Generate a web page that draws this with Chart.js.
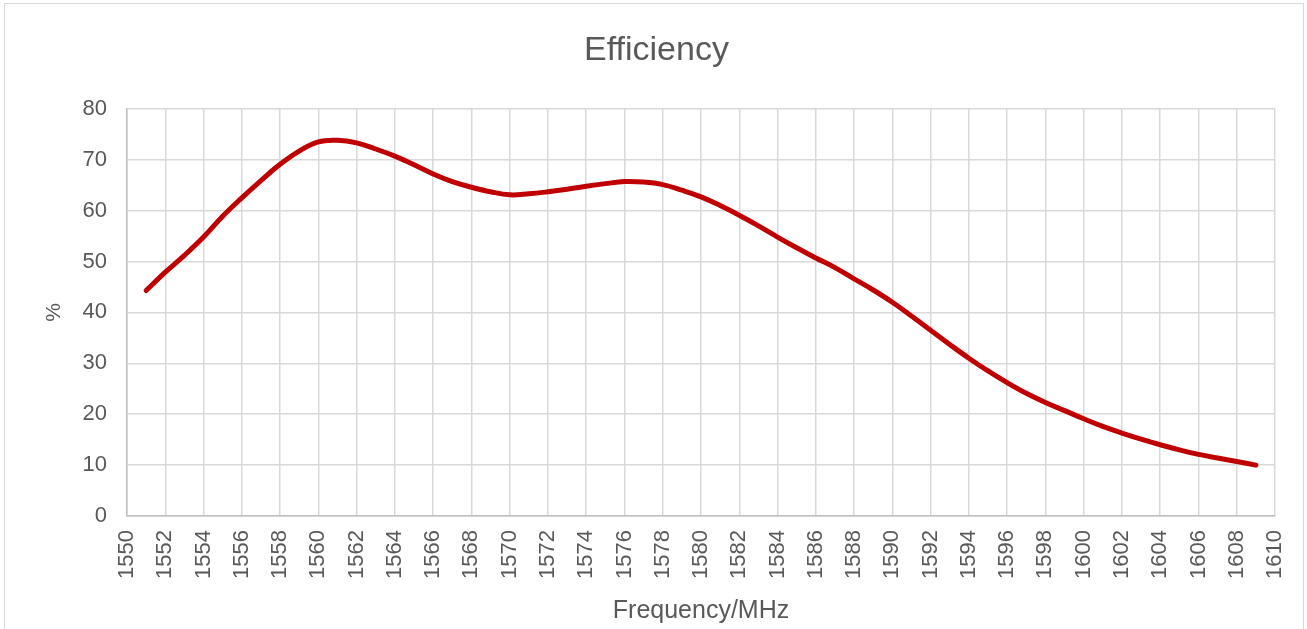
<!DOCTYPE html>
<html>
<head>
<meta charset="utf-8">
<script src="https://cdn.jsdelivr.net/npm/chart.js@4"></script>
<style>
  html, body { margin: 0; padding: 0; background: #fff; overflow: hidden; }
  #wrap { position: relative; width: 1307px; height: 629px; }
  #frame { position: absolute; left: 4px; top: 3px; width: 1298px; height: 640px; border: 1.5px solid #d9d9d9; }
  canvas { position: absolute; left: 0; top: 0; }
</style>
</head>
<body>
<div id="wrap">
  <div id="frame"></div>
  <canvas id="myChartLine" width="1307" height="629"></canvas>
</div>
<script>
const frequency = [
  1551, 1552, 1553, 1554, 1555, 1556, 1557, 1558, 1559, 1560,
  1561, 1562, 1563, 1564, 1565, 1566, 1567, 1568, 1569, 1570,
  1571, 1572, 1573, 1574, 1575, 1576, 1577, 1578, 1579, 1580,
  1581, 1582, 1583, 1584, 1585, 1586, 1587, 1588, 1589, 1590,
  1591, 1592, 1593, 1594, 1595, 1596, 1597, 1598, 1599, 1600,
  1601, 1602, 1603, 1604, 1605, 1606, 1607, 1608, 1609,
];
const efficiency = [
  44.3, 47.9, 51.2, 54.8, 58.9, 62.5, 65.9, 69.1, 71.7, 73.5,
  73.8, 73.3, 72.1, 70.7, 69.0, 67.2, 65.7, 64.6, 63.7, 63.1,
  63.3, 63.7, 64.2, 64.8, 65.3, 65.7, 65.6, 65.1, 64.0, 62.7,
  61.0, 59.1, 57.0, 54.8, 52.7, 50.7, 48.8, 46.6, 44.4, 42.0,
  39.3, 36.5, 33.7, 31.0, 28.5, 26.2, 24.1, 22.3, 20.7, 19.1,
  17.6, 16.3, 15.1, 14.0, 13.0, 12.1, 11.4, 10.7, 10.0,
];
const xRange = [1550, 1610];
const yRange = [0, 80];

const textColor = "#595959";
const gridColor = "#d9d9d9";
const fontFamily = "'Liberation Sans', Arial, sans-serif";

const canvas_line = document.getElementById("myChartLine");
let myChart_line = new Chart(canvas_line, {
  type: "line",
  data: {
    datasets: [
      {
        label: "Efficiency",
        data: frequency.map((f, i) => ({ x: f, y: efficiency[i] })),
        borderColor: "#c00000",
        borderWidth: 5,
        borderCapStyle: "round",
        borderJoinStyle: "round",
        pointRadius: 0,
        tension: 0.4,
        fill: false,
      },
    ],
  },
  options: {
    responsive: false,
    animation: false,
    events: [],
    layout: { padding: { left: 38, right: 32, top: 0, bottom: 0 } },
    plugins: {
      legend: { display: false },
      tooltip: { enabled: false },
      title: {
        display: true,
        text: "Efficiency",
        color: textColor,
        font: { family: fontFamily, size: 34, weight: "normal", lineHeight: 1.2 },
        padding: { top: 30, bottom: 38 },
      },
    },
    scales: {
      x: {
        type: "linear",
        min: xRange[0],
        max: xRange[1],
        afterFit: (scale) => {
          scale.height = 113;
          scale.paddingLeft = 0;
          scale.paddingRight = 0;
        },
        ticks: {
          stepSize: 2,
          autoSkip: false,
          minRotation: 90,
          maxRotation: 90,
          padding: 14,
          color: textColor,
          font: { family: fontFamily, size: 22 },
          callback: (v) => String(v),
        },
        grid: { color: gridColor, lineWidth: 1.5, drawTicks: false },
        border: { color: "#bfbfbf", width: 1.5 },
        title: {
          display: true,
          text: "Frequency/MHz",
          color: textColor,
          font: { family: fontFamily, size: 25, lineHeight: 1.2 },
          padding: { top: 4, bottom: 3 },
        },
      },
      y: {
        min: yRange[0],
        max: yRange[1],
        afterFit: (scale) => { scale.width = 89; },
        ticks: {
          stepSize: 10,
          padding: 20,
          color: textColor,
          font: { family: fontFamily, size: 22 },
        },
        grid: { color: gridColor, lineWidth: 1.5, drawTicks: false },
        border: { color: "#bfbfbf", width: 1.5 },
        title: {
          display: true,
          text: "%",
          color: textColor,
          font: { family: fontFamily, size: 21, lineHeight: 1.2 },
          padding: { top: 4, bottom: 4 },
        },
      },
    },
  },
});
</script>
</body>
</html>
